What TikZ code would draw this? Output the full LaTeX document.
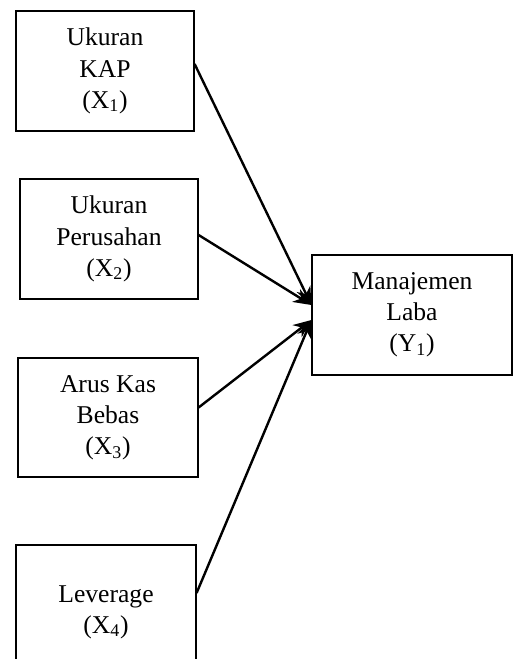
\documentclass[tikz,border=0pt]{standalone}
\usepackage{fontspec}
\setmainfont{Liberation Serif}
\usetikzlibrary{arrows.meta}
\begin{document}
\begin{tikzpicture}[x=0.5pt,y=-0.5pt,
  varbox/.style={draw,line width=0.6pt,inner sep=0pt,align=center,
    font=\fontsize{12.8}{15.6}\selectfont},
  link/.style={line width=1.2pt,-{Stealth[length=9pt,width=7.5pt]}}]
\clip (0,0) rectangle (514,659);
\node[varbox,minimum width=89pt,minimum height=60pt] (b1) at (105,71) {Ukuran\\KAP\\(X\textsubscript{1})};
\node[varbox,minimum width=89pt,minimum height=60pt] (b2) at (109,239) {Ukuran\\Perusahan\\(X\textsubscript{2})};
\node[varbox,minimum width=90pt,minimum height=59.5pt] (b3) at (108,417.5) {Arus Kas\\Bebas\\(X\textsubscript{3})};
\node[varbox,minimum width=90pt,minimum height=67pt] (b4) at (106,612) {Leverage\\(X\textsubscript{4})};
\node[varbox,minimum width=100pt,minimum height=60pt] (y) at (412,315) {Manajemen\\Laba\\(Y\textsubscript{1})};
\coordinate (t1) at ([yshift=5pt]y.west);
\coordinate (t2) at ([yshift=-2.5pt]y.west);
\draw[link] ([yshift=3.5pt]b1.east) -- (t1);
\draw[link] ([yshift=2pt]b2.east) -- (t1);
\draw[link] ([yshift=5pt]b3.east) -- (t2);
\draw[link] ([yshift=9.5pt]b4.east) -- (t2);
\end{tikzpicture}
\end{document}
